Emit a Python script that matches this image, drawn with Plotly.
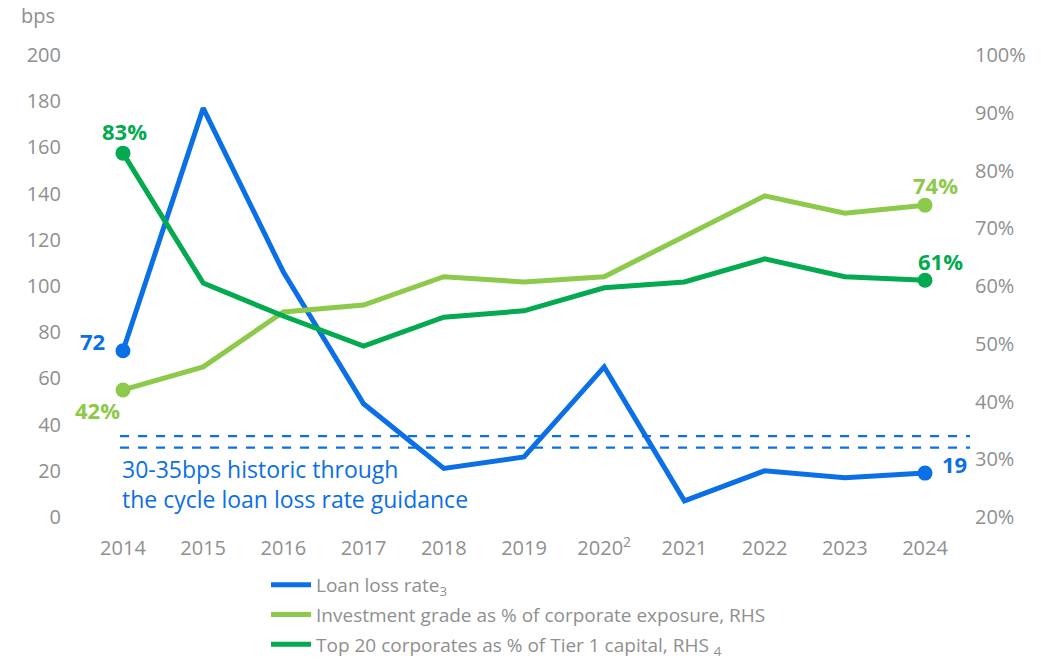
import plotly.graph_objects as go

years = [2014, 2015, 2016, 2017, 2018, 2019, 2020, 2021, 2022, 2023, 2024]
year_labels = ["2014", "2015", "2016", "2017", "2018", "2019", "2020<sup>2</sup>",
               "2021", "2022", "2023", "2024"]
loan_loss_bps = [72, 177, 106, 49, 21, 26, 65, 7, 20, 17, 19]
investment_grade_pct = [42, 46, 55.5, 56.7, 61.6, 60.7, 61.6, 68.5, 75.6, 72.6, 74]
top20_tier1_pct = [83, 60.5, 54.8, 49.6, 54.6, 55.7, 59.7, 60.7, 64.7, 61.6, 61]
guidance_band = [30, 35]

BLUE = "#0b6fe6"
LIGHT_GREEN = "#8dc94a"
DARK_GREEN = "#04aa4f"
GREY = "#8f8f8f"
FONT = "Open Sans"

series = [
    ("Loan loss rate<sub>3</sub>", loan_loss_bps, BLUE, "y"),
    ("Investment grade as % of corporate exposure, RHS", investment_grade_pct, LIGHT_GREEN, "y2"),
    ("Top 20 corporates as % of Tier 1 capital, RHS <sub>4</sub>", top20_tier1_pct, DARK_GREEN, "y2"),
]

fig = go.Figure()
for i, (name, values, color, axis) in enumerate(series):
    fig.add_trace(go.Scatter(x=years, y=values, name=name, mode="lines",
                             legendgroup="g%d" % i,
                             line=dict(color=color, width=5), yaxis=axis))
# Endpoint dots
for name, values, color, axis in series:
    fig.add_trace(go.Scatter(x=[years[0], years[-1]], y=[values[0], values[-1]],
                             mode="markers", marker=dict(size=15, color=color),
                             yaxis=axis, showlegend=False, hoverinfo="skip"))

# Guidance band as two dashed horizontal lines across the plot
for level in guidance_band:
    fig.add_shape(type="line", xref="paper", yref="y", x0=0.045, x1=1,
                  y0=level, y1=level, line=dict(color=BLUE, width=2.2, dash="dash"))

fig.add_annotation(x=2014, y=14.5, xref="x", yref="y", xanchor="left", yanchor="middle",
                   xshift=-3,
                   text="30-35bps historic through<br>the cycle loan loss rate guidance",
                   showarrow=False, align="left",
                   font=dict(family=FONT, size=23, color=BLUE))


def value_label(x, y, axis, text, color, xanchor, xshift, yshift):
    fig.add_annotation(x=x, y=y, yref=axis, text="<b>%s</b>" % text, showarrow=False,
                       xanchor=xanchor, xshift=xshift, yshift=yshift,
                       font=dict(family=FONT, size=22, color=color))


value_label(years[0], loan_loss_bps[0], "y", "%d" % loan_loss_bps[0], BLUE, "right", -16, 10)
value_label(years[-1], loan_loss_bps[-1], "y", "%d" % loan_loss_bps[-1], BLUE, "left", 15, 9)
value_label(years[0], investment_grade_pct[0], "y2", "%d%%" % investment_grade_pct[0],
            LIGHT_GREEN, "center", -25, -20)
value_label(years[-1], investment_grade_pct[-1], "y2", "%d%%" % investment_grade_pct[-1],
            LIGHT_GREEN, "center", 10, 20)
value_label(years[0], top20_tier1_pct[0], "y2", "%d%%" % top20_tier1_pct[0],
            DARK_GREEN, "center", 2, 22)
value_label(years[-1], top20_tier1_pct[-1], "y2", "%d%%" % top20_tier1_pct[-1],
            DARK_GREEN, "center", 15, 19)

fig.add_annotation(x=-0.068, y=1.085, xref="paper", yref="paper", xanchor="left",
                   yanchor="middle", text="bps", showarrow=False,
                   font=dict(family=FONT, size=20, color=GREY))

fig.update_layout(
    width=1041, height=659,
    margin=dict(l=80, r=71, t=55, b=142, autoexpand=False),
    paper_bgcolor="white", plot_bgcolor="white",
    font=dict(family=FONT, size=20, color=GREY),
    showlegend=True,
    legend=dict(x=0.209, y=-0.106, xanchor="left", yanchor="top",
                font=dict(family=FONT, size=19, color=GREY),
                tracegroupgap=2, itemwidth=40, bgcolor="rgba(0,0,0,0)"),
    xaxis=dict(range=[2013.464, 2024.561], tickmode="array", tickvals=years,
               ticktext=year_labels, showgrid=False, zeroline=False, showline=False,
               ticks="", ticklabelstandoff=17, tickfont=dict(size=20, color=GREY)),
    yaxis=dict(range=[0, 200], dtick=20, showgrid=False, zeroline=False,
               showline=False, ticks="", ticklabelstandoff=18,
               tickfont=dict(size=20, color=GREY)),
    yaxis2=dict(range=[20, 100], dtick=10, ticksuffix="%", overlaying="y",
                side="right", showgrid=False, zeroline=False, showline=False,
                ticks="", ticklabelstandoff=4, tickfont=dict(size=20, color=GREY)),
)

fig.write_html("out.html")
